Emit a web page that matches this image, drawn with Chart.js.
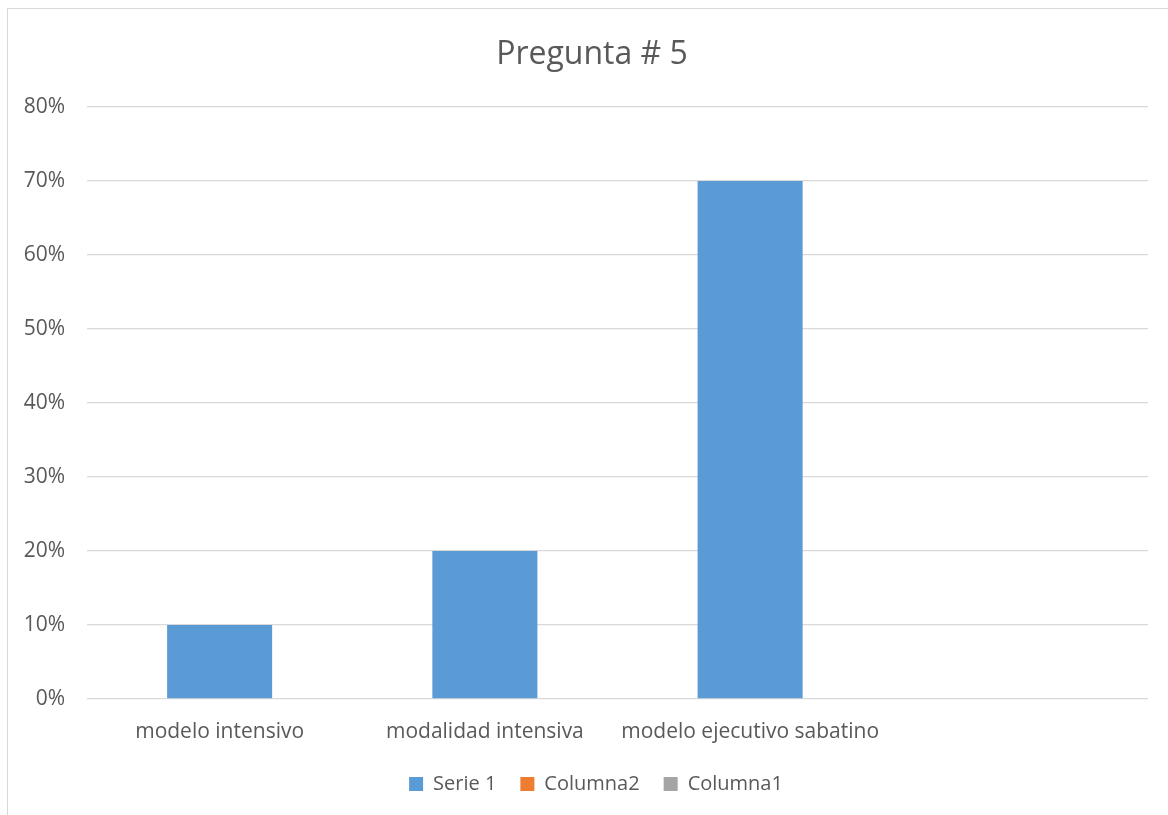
<!DOCTYPE html>
<html>
<head>
<meta charset="utf-8">
<script src="https://cdn.jsdelivr.net/npm/chart.js@4/dist/chart.umd.min.js"></script>
<style>
  html, body { margin: 0; padding: 0; background: #ffffff; overflow: hidden; }
  #frame {
    position: absolute; left: 7px; top: 8px; width: 1400px; height: 1000px;
    border-left: 1px solid #d9d9d9; border-top: 1px solid #d9d9d9;
  }
  #wrap { position: absolute; left: 0; top: 0; width: 1168px; height: 815px; }
</style>
</head>
<body>
<div id="frame"></div>
<div id="wrap"><canvas id="chart" width="1168" height="815"></canvas></div>
<script>
// Survey answers for question 5 (share of respondents)
const categories = ['modelo intensivo', 'modalidad intensiva', 'modelo ejecutivo sabatino', ''];
const serie1 = [0.10, 0.20, 0.70, null];
const columna2 = [null, null, null, null];
const columna1 = [null, null, null, null];
const yTicks = [0, 0.1, 0.2, 0.3, 0.4, 0.5, 0.6, 0.7, 0.8];

const FONT = '"Open Sans", sans-serif';
const TEXT = '#595959';

// The title and legend are centred on the whole chart frame rather than
// on the canvas area left of the right margin; nudge their boxes right.
const centerOnFrame = {
  id: 'centerOnFrame',
  afterLayout(chart) {
    if (chart.titleBlock) { chart.titleBlock.left += 18; chart.titleBlock.right += 18; }
    if (chart.legend) { chart.legend.left += 22; chart.legend.right += 22; }
  }
};

new Chart(document.getElementById('chart'), {
  type: 'bar',
  data: {
    labels: categories,
    datasets: [
      { label: 'Serie 1', data: serie1, backgroundColor: '#5b9bd5' },
      { label: 'Columna2', data: columna2, backgroundColor: '#ed7d31' },
      { label: 'Columna1', data: columna1, backgroundColor: '#a5a5a5' }
    ]
  },
  plugins: [centerOnFrame],
  options: {
    responsive: false,
    animation: false,
    devicePixelRatio: 1,
    layout: { padding: { left: 0, right: 20, top: 0, bottom: 11 } },
    datasets: { bar: { grouped: false, categoryPercentage: 1, barPercentage: 0.396 } },
    plugins: {
      title: {
        display: true,
        text: 'Pregunta # 5',
        color: TEXT,
        font: { family: FONT, size: 32, weight: 'normal' },
        padding: { top: 36, bottom: 32.6 }
      },
      legend: {
        position: 'bottom',
        labels: {
          color: TEXT,
          font: { family: FONT, size: 20 },
          boxWidth: 14,
          boxHeight: 14,
          padding: 24
        }
      },
      tooltip: { enabled: false }
    },
    scales: {
      x: {
        grid: { display: false },
        border: { display: false },
        ticks: { color: TEXT, font: { family: FONT, size: 21 }, padding: 12, maxRotation: 0 },
        afterFit: (s) => { s.height = 51; }
      },
      y: {
        min: 0,
        max: 0.8,
        afterBuildTicks: (s) => { s.ticks = yTicks.map(v => ({ value: v })); },
        grid: { color: '#d9d9d9', lineWidth: 1.3, drawTicks: false },
        border: { display: false },
        ticks: {
          color: TEXT,
          font: { family: FONT, size: 21 },
          padding: 22,
          callback: (v) => Math.round(v * 100) + '%'
        },
        afterFit: (s) => { s.width = 87; }
      }
    }
  }
});
</script>
</body>
</html>
